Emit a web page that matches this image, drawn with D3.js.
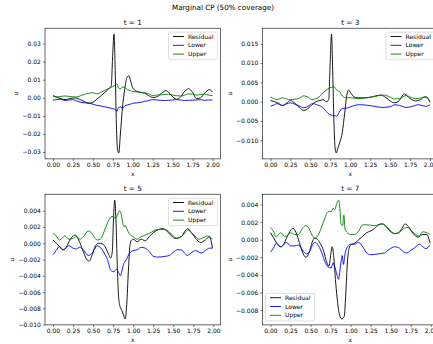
<!DOCTYPE html>
<html>
<head>
<meta charset="utf-8">
<script src="https://cdn.jsdelivr.net/npm/d3@7"></script>
<style>
  body { margin: 0; background: #fff; }
  svg { display: block; }
  text { font-family: "DejaVu Sans", sans-serif; fill: #000; }
</style>
</head>
<body>
<svg id="fig" width="433" height="344"></svg>
<script>
// ---- data -------------------------------------------------------------
const figTitle = "Marginal CP (50% coverage)";
const panelTitles = ["t = 1", "t = 3", "t = 5", "t = 7"];
const seriesNames = ["Residual", "Lower", "Upper"];

const xTicks = [0, 0.25, 0.5, 0.75, 1.0, 1.25, 1.5, 1.75, 2.0];
const yTicks1 = [-0.03, -0.02, -0.01, 0.0, 0.01, 0.02, 0.03];
const yTicks3 = [-0.010, -0.005, 0.0, 0.005, 0.010, 0.015];
const yTicks5 = [-0.010, -0.008, -0.006, -0.004, -0.002, 0.0, 0.002, 0.004];
const yTicks7 = [-0.008, -0.006, -0.004, -0.002, 0.0, 0.002, 0.004];

const t1Residual = [[0,0.0010],[0.05,0.0002],[0.1,-0.0005],[0.15,-0.0010],[0.2,-0.0006],[0.27,0.0000],[0.33,-0.0008],[0.4,-0.0022],[0.45,-0.0030],[0.5,-0.0025],[0.55,-0.0008],[0.6,0.0010],[0.65,0.0030],[0.7,0.0050],[0.73,0.0065],[0.75,0.0250],[0.765,0.0352],[0.78,0.0150],[0.795,-0.0150],[0.81,-0.0290],[0.825,-0.0305],[0.845,-0.0200],[0.87,-0.0060],[0.9,0.0050],[0.925,0.0110],[0.95,0.0122],[0.975,0.0090],[1.0,0.0055],[1.04,0.0038],[1.1,0.0030],[1.15,0.0025],[1.2,0.0012],[1.25,0.0002],[1.3,0.0005],[1.36,0.0025],[1.42,0.0040],[1.48,0.0015],[1.55,-0.0008],[1.6,0.0005],[1.65,0.0035],[1.7,0.0050],[1.75,0.0030],[1.8,-0.0005],[1.85,0.0000],[1.9,0.0025],[1.96,0.0045],[2.0,0.0032]];
const t1Lower = [[0,-0.0013],[0.05,-0.0010],[0.1,-0.0008],[0.15,-0.0015],[0.2,-0.0012],[0.25,-0.0010],[0.3,-0.0018],[0.35,-0.0025],[0.4,-0.0028],[0.45,-0.0030],[0.5,-0.0035],[0.55,-0.0042],[0.6,-0.0045],[0.65,-0.0050],[0.7,-0.0055],[0.75,-0.0060],[0.78,-0.0065],[0.8,-0.0075],[0.82,-0.0055],[0.85,-0.0050],[0.87,-0.0060],[0.9,-0.0045],[0.93,-0.0040],[0.97,-0.0035],[1.0,-0.0030],[1.05,-0.0028],[1.1,-0.0025],[1.15,-0.0020],[1.2,-0.0015],[1.25,-0.0010],[1.3,-0.0012],[1.4,-0.0015],[1.5,-0.0012],[1.55,-0.0010],[1.6,-0.0012],[1.65,-0.0015],[1.7,-0.0014],[1.8,-0.0012],[1.85,-0.0010],[1.9,-0.0014],[1.95,-0.0012],[2.0,-0.0012]];
const t1Upper = [[0,0.0015],[0.05,0.0005],[0.1,0.0008],[0.15,0.0010],[0.2,0.0008],[0.25,0.0005],[0.3,0.0005],[0.35,0.0012],[0.4,0.0020],[0.45,0.0025],[0.5,0.0028],[0.55,0.0022],[0.6,0.0030],[0.65,0.0042],[0.7,0.0052],[0.75,0.0062],[0.78,0.0070],[0.8,0.0078],[0.82,0.0055],[0.85,0.0050],[0.87,0.0060],[0.9,0.0058],[0.93,0.0045],[0.97,0.0040],[1.0,0.0035],[1.05,0.0033],[1.1,0.0030],[1.15,0.0028],[1.2,0.0022],[1.25,0.0012],[1.3,0.0015],[1.4,0.0018],[1.45,0.0020],[1.5,0.0015],[1.55,0.0012],[1.6,0.0010],[1.65,0.0015],[1.7,0.0022],[1.75,0.0020],[1.8,0.0015],[1.85,0.0018],[1.9,0.0020],[1.95,0.0015],[2.0,0.0012]];

const t3Residual = [[0,0.0003],[0.05,0.0000],[0.1,-0.0004],[0.15,-0.0010],[0.2,-0.0004],[0.25,0.0003],[0.3,-0.0003],[0.36,-0.0015],[0.42,-0.0023],[0.47,-0.0018],[0.52,-0.0008],[0.57,0.0000],[0.62,0.0003],[0.66,0.0005],[0.7,0.0000],[0.73,0.0005],[0.745,0.0080],[0.765,0.0175],[0.78,0.0080],[0.795,-0.0050],[0.81,-0.0120],[0.825,-0.0133],[0.845,-0.0120],[0.87,-0.0105],[0.9,-0.0080],[0.93,-0.0030],[0.96,0.0020],[0.98,0.0030],[1.0,0.0025],[1.05,0.0012],[1.1,0.0010],[1.2,0.0010],[1.3,0.0014],[1.38,0.0017],[1.45,0.0010],[1.5,0.0002],[1.55,-0.0003],[1.6,0.0000],[1.68,0.0020],[1.75,0.0008],[1.82,0.0002],[1.88,0.0005],[1.93,0.0012],[1.97,0.0008],[2.0,-0.0002]];
const t3Lower = [[0,-0.0012],[0.05,-0.0008],[0.08,-0.0005],[0.15,-0.0010],[0.2,-0.0006],[0.25,-0.0003],[0.3,-0.0006],[0.35,-0.0010],[0.42,-0.0016],[0.47,-0.0012],[0.53,-0.0005],[0.58,-0.0008],[0.63,-0.0012],[0.68,-0.0020],[0.72,-0.0030],[0.76,-0.0035],[0.8,-0.0036],[0.83,-0.0038],[0.86,-0.0028],[0.9,-0.0018],[0.95,-0.0017],[1.0,-0.0014],[1.05,-0.0010],[1.12,-0.0008],[1.2,-0.0009],[1.3,-0.0012],[1.4,-0.0015],[1.5,-0.0013],[1.56,-0.0008],[1.62,-0.0010],[1.7,-0.0015],[1.78,-0.0012],[1.85,-0.0008],[1.9,-0.0010],[1.95,-0.0012],[2.0,-0.0008]];
const t3Upper = [[0,0.0012],[0.05,0.0007],[0.08,0.0005],[0.15,0.0010],[0.2,0.0007],[0.25,0.0005],[0.3,0.0006],[0.35,0.0008],[0.42,0.0015],[0.47,0.0012],[0.52,0.0005],[0.57,0.0008],[0.62,0.0014],[0.67,0.0025],[0.72,0.0033],[0.76,0.0037],[0.8,0.0038],[0.83,0.0030],[0.87,0.0025],[0.9,0.0015],[0.95,0.0010],[1.0,0.0010],[1.1,0.0008],[1.2,0.0010],[1.3,0.0013],[1.37,0.0016],[1.42,0.0017],[1.5,0.0012],[1.55,0.0007],[1.62,0.0008],[1.7,0.0016],[1.77,0.0010],[1.82,0.0008],[1.9,0.0010],[1.95,0.0013],[2.0,0.0000]];

const t5Residual = [[0,0.0004],[0.04,0.0000],[0.08,-0.0004],[0.12,-0.0008],[0.16,-0.0006],[0.2,0.0002],[0.24,0.0008],[0.28,0.0010],[0.32,0.0004],[0.37,-0.0008],[0.41,-0.0018],[0.45,-0.0022],[0.49,-0.0014],[0.53,-0.0003],[0.57,0.0000],[0.62,-0.0001],[0.66,-0.0006],[0.7,-0.0015],[0.72,-0.0018],[0.74,-0.0010],[0.755,0.0030],[0.77,0.0053],[0.785,0.0030],[0.8,-0.0020],[0.815,-0.0060],[0.83,-0.0075],[0.86,-0.0083],[0.88,-0.0088],[0.9,-0.0093],[0.92,-0.0075],[0.94,-0.0035],[0.96,-0.0003],[0.98,0.0004],[1.0,0.0005],[1.05,0.0002],[1.1,0.0005],[1.15,0.0003],[1.2,0.0008],[1.25,0.0013],[1.32,0.0017],[1.37,0.0018],[1.42,0.0015],[1.47,0.0010],[1.52,0.0006],[1.6,0.0008],[1.64,0.0014],[1.68,0.0018],[1.72,0.0014],[1.78,0.0006],[1.84,0.0001],[1.9,0.0004],[1.95,0.0008],[1.99,-0.0006]];
const t5Lower = [[0,-0.0014],[0.04,-0.0009],[0.08,-0.0004],[0.13,-0.0008],[0.17,-0.0005],[0.2,-0.0003],[0.25,-0.0006],[0.29,-0.0007],[0.33,-0.0005],[0.38,-0.0008],[0.44,-0.0015],[0.48,-0.0013],[0.52,-0.0007],[0.55,-0.0003],[0.6,-0.0006],[0.64,-0.0012],[0.68,-0.0020],[0.72,-0.0033],[0.76,-0.0035],[0.79,-0.0032],[0.82,-0.0036],[0.84,-0.0040],[0.86,-0.0034],[0.88,-0.0026],[0.9,-0.0022],[0.92,-0.0019],[0.95,-0.0013],[1.0,-0.0009],[1.05,-0.0008],[1.1,-0.0005],[1.15,-0.0006],[1.2,-0.0010],[1.25,-0.0016],[1.3,-0.0017],[1.4,-0.0016],[1.45,-0.0015],[1.5,-0.0011],[1.55,-0.0008],[1.6,-0.0008],[1.64,-0.0012],[1.68,-0.0015],[1.72,-0.0012],[1.78,-0.0009],[1.85,-0.0012],[1.9,-0.0009],[1.95,-0.0006],[1.99,-0.0006]];
const t5Upper = [[0,0.0013],[0.04,0.0009],[0.08,0.0004],[0.12,0.0007],[0.15,0.0009],[0.2,0.0005],[0.25,0.0006],[0.29,0.0008],[0.34,0.0005],[0.38,0.0008],[0.44,0.0015],[0.48,0.0013],[0.52,0.0007],[0.55,0.0004],[0.6,0.0006],[0.64,0.0015],[0.68,0.0025],[0.72,0.0032],[0.75,0.0033],[0.78,0.0030],[0.8,0.0034],[0.83,0.0040],[0.85,0.0036],[0.87,0.0025],[0.89,0.0020],[0.9,0.0022],[0.92,0.0018],[0.95,0.0012],[1.0,0.0008],[1.05,0.0005],[1.1,0.0008],[1.15,0.0010],[1.2,0.0012],[1.27,0.0016],[1.33,0.0017],[1.4,0.0017],[1.45,0.0014],[1.5,0.0009],[1.55,0.0006],[1.6,0.0008],[1.65,0.0013],[1.68,0.0016],[1.72,0.0014],[1.78,0.0008],[1.82,0.0005],[1.88,0.0007],[1.93,0.0009],[1.99,0.0005]];

const t7Residual = [[0,0.0008],[0.04,0.0002],[0.08,-0.0004],[0.12,-0.0008],[0.16,-0.0006],[0.2,0.0002],[0.24,0.0009],[0.28,0.0013],[0.32,0.0008],[0.36,-0.0003],[0.4,-0.0014],[0.44,-0.0020],[0.48,-0.0015],[0.52,-0.0003],[0.55,0.0002],[0.58,0.0001],[0.62,-0.0004],[0.66,-0.0012],[0.7,-0.0025],[0.73,-0.0030],[0.75,-0.0018],[0.77,-0.0008],[0.79,-0.0020],[0.81,-0.0045],[0.83,-0.0065],[0.86,-0.0085],[0.89,-0.0090],[0.92,-0.0087],[0.94,-0.0060],[0.96,-0.0025],[0.98,-0.0010],[1.0,-0.0006],[1.05,-0.0004],[1.1,0.0000],[1.15,0.0004],[1.2,0.0008],[1.25,0.0010],[1.3,0.0013],[1.35,0.0017],[1.4,0.0018],[1.45,0.0014],[1.5,0.0009],[1.55,0.0007],[1.6,0.0008],[1.64,0.0013],[1.68,0.0018],[1.72,0.0015],[1.78,0.0007],[1.84,0.0003],[1.9,0.0006],[1.95,0.0006],[1.99,-0.0004]];
const t7Lower = [[0,-0.0014],[0.04,-0.0009],[0.07,-0.0004],[0.1,-0.0006],[0.13,-0.0008],[0.17,-0.0005],[0.2,-0.0003],[0.25,-0.0007],[0.3,-0.0007],[0.35,-0.0006],[0.4,-0.0012],[0.45,-0.0016],[0.49,-0.0013],[0.53,-0.0005],[0.56,-0.0003],[0.6,-0.0007],[0.64,-0.0015],[0.68,-0.0025],[0.72,-0.0031],[0.76,-0.0032],[0.78,-0.0026],[0.8,-0.0030],[0.83,-0.0040],[0.85,-0.0045],[0.865,-0.0036],[0.88,-0.0025],[0.895,-0.0018],[0.91,-0.0028],[0.93,-0.0016],[0.96,-0.0008],[1.0,-0.0005],[1.05,-0.0005],[1.1,-0.0003],[1.15,-0.0008],[1.2,-0.0015],[1.25,-0.0017],[1.35,-0.0016],[1.42,-0.0015],[1.48,-0.0011],[1.55,-0.0008],[1.6,-0.0009],[1.65,-0.0013],[1.7,-0.0015],[1.75,-0.0012],[1.8,-0.0009],[1.86,-0.0005],[1.9,-0.0008],[1.94,-0.0010],[1.99,-0.0006]];
const t7Upper = [[0,0.0014],[0.04,0.0009],[0.07,0.0003],[0.1,0.0006],[0.13,0.0008],[0.17,0.0004],[0.2,0.0004],[0.25,0.0008],[0.3,0.0006],[0.35,0.0006],[0.4,0.0013],[0.44,0.0016],[0.48,0.0013],[0.52,0.0005],[0.55,0.0002],[0.6,0.0006],[0.64,0.0015],[0.68,0.0025],[0.72,0.0032],[0.76,0.0032],[0.78,0.0036],[0.8,0.0034],[0.83,0.0042],[0.85,0.0045],[0.865,0.0036],[0.88,0.0018],[0.9,0.0016],[0.915,0.0028],[0.93,0.0012],[0.96,0.0008],[1.0,0.0006],[1.05,0.0006],[1.1,0.0010],[1.15,0.0017],[1.2,0.0017],[1.3,0.0016],[1.38,0.0018],[1.45,0.0015],[1.5,0.0010],[1.55,0.0007],[1.6,0.0008],[1.65,0.0012],[1.7,0.0014],[1.75,0.0011],[1.8,0.0007],[1.85,0.0004],[1.9,0.0009],[1.95,0.0008],[1.99,0.0006]];

// ---- layout & style ---------------------------------------------------
const colors = ["#000000", "#0000ff", "#008000"];
const panels = [
  { title: panelTitles[0], series: [t1Residual, t1Lower, t1Upper], yTicks: yTicks1, fmt: ".2f", legend: "ur" },
  { title: panelTitles[1], series: [t3Residual, t3Lower, t3Upper], yTicks: yTicks3, fmt: ".3f", legend: "ur" },
  { title: panelTitles[2], series: [t5Residual, t5Lower, t5Upper], yTicks: yTicks5, fmt: ".3f", legend: "ur" },
  { title: panelTitles[3], series: [t7Residual, t7Lower, t7Upper], yTicks: yTicks7, fmt: ".3f", legend: "ll" }
];
const lefts = [45, 262.5], tops = [28.2, 194.2];
const W = 175.5, H = 130.7;
const tickFont = 6, titleFont = 7.2;
const tickLen = 2.1, tickPad = 2.1;

const svg = d3.select("#fig");
svg.append("rect").attr("width", 433).attr("height", 344).attr("fill", "#fff");

svg.append("text")
  .attr("x", 223).attr("y", 9.9)
  .attr("text-anchor", "middle")
  .style("font-size", titleFont + "px")
  .text(figTitle);

const minus = s => s.replace("-", "\u2212");

// matplotlib-style 5% margins around the data extent
function padded(ext) {
  const d = (ext[1] - ext[0]) * 0.05;
  return [ext[0] - d, ext[1] + d];
}

panels.forEach((p, i) => {
  const col = i % 2, row = Math.floor(i / 2);
  const g = svg.append("g").attr("transform", `translate(${lefts[col]},${tops[row]})`);

  const all = p.series.flat();
  const x = d3.scaleLinear().domain(padded(d3.extent(all, d => d[0]))).range([0, W]);
  const y = d3.scaleLinear().domain(padded(d3.extent(all, d => d[1]))).range([H, 0]);

  const clipId = "clip" + i;
  g.append("clipPath").attr("id", clipId)
    .append("rect").attr("width", W).attr("height", H);

  // curves
  const line = d3.line().x(d => x(d[0])).y(d => y(d[1])).curve(d3.curveMonotoneX);
  const plot = g.append("g").attr("clip-path", `url(#${clipId})`);
  p.series.forEach((s, k) => {
    plot.append("path").datum(s)
      .attr("d", line)
      .attr("fill", "none")
      .attr("stroke", colors[k])
      .attr("stroke-width", 0.9)
      .attr("stroke-linejoin", "round");
  });

  // axes
  const xAxis = g.append("g").attr("transform", `translate(0,${H})`)
    .call(d3.axisBottom(x).tickValues(xTicks).tickSize(tickLen).tickPadding(tickPad)
      .tickFormat(d3.format(".2f")));
  const yAxis = g.append("g")
    .call(d3.axisLeft(y).tickValues(p.yTicks).tickSize(tickLen).tickPadding(tickPad)
      .tickFormat(v => minus(d3.format(p.fmt)(v))));
  [xAxis, yAxis].forEach(a => {
    a.select(".domain").remove();
    a.selectAll(".tick line").attr("stroke", "#000").attr("stroke-width", 0.5);
    a.selectAll(".tick text")
      .attr("fill", "#000")
      .style("font-family", "'DejaVu Sans', sans-serif")
      .style("font-size", tickFont + "px");
  });

  // frame
  g.append("rect").attr("width", W).attr("height", H)
    .attr("fill", "none").attr("stroke", "#000").attr("stroke-width", 0.6);

  // titles and axis labels
  g.append("text").attr("x", W / 2).attr("y", -3.6)
    .attr("text-anchor", "middle").style("font-size", titleFont + "px").text(p.title);
  g.append("text").attr("x", W / 2).attr("y", H + 17)
    .attr("text-anchor", "middle").style("font-size", tickFont + "px").text("x");

  let minLeft = 0;
  yAxis.selectAll(".tick text").each(function () {
    const b = this.getBBox();
    minLeft = Math.min(minLeft, b.x);
  });
  g.append("text")
    .attr("transform", `translate(${minLeft - 4.5},${H / 2}) rotate(-90)`)
    .attr("text-anchor", "middle").style("font-size", tickFont + "px").text("u");

  // legend
  const lw = 49, lh = 27.5;
  const lx = p.legend === "ur" ? W - 3 - lw : 3;
  const ly = p.legend === "ur" ? 4 : H - 4 - lh;
  const lg = g.append("g").attr("transform", `translate(${lx},${ly})`);
  lg.append("rect").attr("width", lw).attr("height", lh).attr("rx", 1.5)
    .attr("fill", "#fff").attr("fill-opacity", 0.8)
    .attr("stroke", "#cccccc").attr("stroke-width", 0.6);
  seriesNames.forEach((name, k) => {
    const yy = 4.3 + k * 8.8;
    lg.append("line").attr("x1", 4.5).attr("x2", 15.5).attr("y1", yy).attr("y2", yy)
      .attr("stroke", colors[k]).attr("stroke-width", 0.9);
    lg.append("text").attr("x", 19.5).attr("y", yy).attr("dy", "0.35em")
      .style("font-size", tickFont + "px").text(name);
  });
});
</script>
</body>
</html>
